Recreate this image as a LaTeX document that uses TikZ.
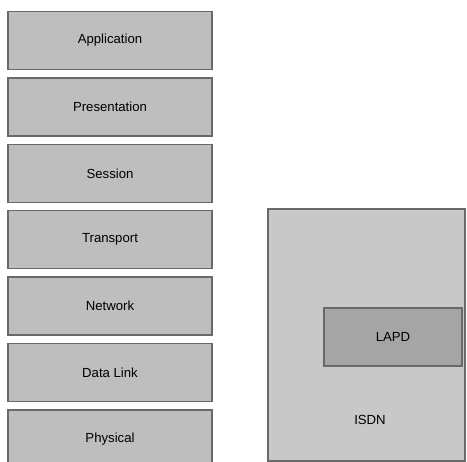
\documentclass[tikz,border=0pt]{standalone}
\usepackage{fontspec}
\setmainfont{Liberation Sans}
\usetikzlibrary{positioning}
\definecolor{layerfill}{RGB}{190,190,190}
\definecolor{layerdraw}{RGB}{105,105,105}
\definecolor{isdnfill}{RGB}{200,200,200}
\definecolor{lapdfill}{RGB}{165,165,165}
\tikzset{
  layer/.style={rectangle, draw=layerdraw, fill=layerfill, line width=0.8pt,
    minimum width=4.08cm, minimum height=1.16cm, inner sep=0pt,
    font=\fontsize{7.5}{9}\selectfont},
  isdnbox/.style={rectangle, draw=layerdraw, fill=isdnfill, line width=1pt,
    minimum width=3.94cm, minimum height=5.04cm, inner sep=0pt},
  lapdbox/.style={rectangle, draw=layerdraw, fill=lapdfill, line width=0.8pt,
    minimum width=2.76cm, minimum height=1.16cm, inner sep=0pt,
    font=\fontsize{7.5}{9}\selectfont},
  lbl/.style={font=\fontsize{7.5}{9}\selectfont, inner sep=0pt},
}
\begin{document}
\begin{tikzpicture}[x=0.02cm, y=-0.02cm, node distance=0.14cm]
  \useasboundingbox (0,0) rectangle (467,461);
  % OSI stack
  \node[layer]                      (app)  at (110,40.5) {Application};
  \node[layer, below=of app]        (pres) {Presentation};
  \node[layer, below=of pres]       (sess) {Session};
  \node[layer, below=of sess]       (trans){Transport};
  \node[layer, below=of trans]      (net)  {Network};
  \node[layer, below=of net]        (dl)   {Data Link};
  \node[layer, below=of dl]         (phys) {Physical};
  % ISDN
  \node[isdnbox]                    (isdn) at (366.5,335) {};
  \node[lapdbox]                    (lapd) at (393,337) {LAPD};
  \node[lbl]                        (isdnlbl) at (370,420) {ISDN};
\end{tikzpicture}
\end{document}
